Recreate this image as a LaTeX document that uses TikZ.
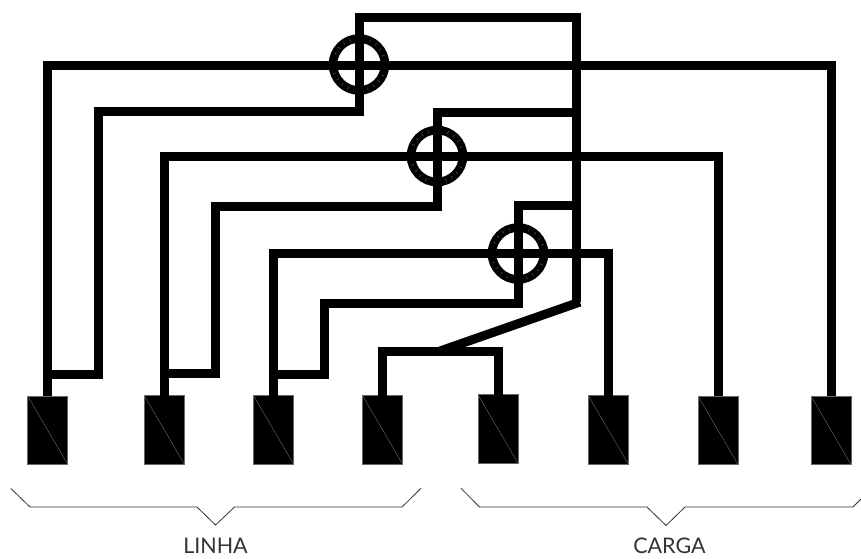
\documentclass[tikz,border=0pt]{standalone}
\usepackage{fontspec}
\usetikzlibrary{calc}
\setmainfont{Lato}
\tikzset{
  wire/.style={line width=9pt,line join=miter,line cap=butt,black},
  term/.style={rectangle,fill=black,draw=black!60,line width=0.6pt,minimum width=40pt,minimum height=68.5pt,inner sep=0pt,outer sep=0pt},
  diag/.style={draw=black!50,line width=0.3pt},
  brace/.style={draw=black!80,line width=0.8pt},
  ring/.style={circle,draw=black,line width=8.6pt,minimum size=52pt,inner sep=0pt,outer sep=0pt},
  tick/.style={draw=black!60,line width=0.4pt},
  lab/.style={font=\fontsize{21.5pt}{22pt}\selectfont,text=black!80,inner sep=0pt}
}
\begin{document}
\begin{tikzpicture}[x=1pt,y=-1pt]
\useasboundingbox (0,0) rectangle (861,558);
% terminals
\node[term] (t1) at (47.75,430.25) {};
\node[term] (t2) at (164.25,429.75) {};
\node[term] (t3) at (273.5,429.75) {};
\node[term] (t4) at (382.5,429.75) {};
\node[term] (t5) at (498,429) {};
\node[term] (t6) at (608.25,429.75) {};
\node[term] (t7) at (718,430.25) {};
\node[term] (t8) at (831,430.25) {};
\foreach \n in {t1,t2,t3,t4,t5,t6,t7,t8}
  \draw[diag] (\n.north west) -- (\n.south east);
% junction points
\coordinate (j1) at (47.75,374);
\coordinate (j2) at (164.25,373);
\coordinate (j3) at (273.5,374);
\coordinate (j5) at (498,351);
\coordinate (sw) at (440,351);
\coordinate (bus) at (576,302);
% wires: line to load
\draw[wire] (t1.north) |- (359,65) -- (831,65) -- (t8.north);
\draw[wire] (t2.north) |- (437,156.5) -- (718,156.5) -- (t7.north);
\draw[wire] (t3.north) |- (518,253.5) -- (608.25,253.5) -- (t6.north);
% wires: line to common bus
\draw[wire] (j1) -- (98,374) -- (98,111) -- (359,111) -- (359,17) -- (576,17) -- (bus);
\draw[wire] (j2) -- (215,373) -- (215,206) -- (437.5,206) -- (437.5,112) -- (576,112);
\draw[wire] (j3) -- (324,374) -- (324,303.5) -- (518,303.5) -- (518,205) -- (576,205);
% switch
\draw[wire] (bus) ++(4,0) -- (sw);
\draw[wire] (t4.north) |- (j5) -- (t5.north);
% current transformers
\foreach \c/\x/\y in {c1/359/64.5,c2/437/156,c3/518/253.5}{
  \node[ring] (\c) at (\x,\y) {};
  \foreach \a in {25,40,...,70,115,130,...,160,205,220,...,250,295,310,...,340}
    \draw[tick] ($(\c.center)+(\a:24.5)$) -- ($(\c.center)+(\a:27.5)$);
}
% braces
\draw[brace] (10.7,488.3) -- (30,507) -- (197,507) -- (215.5,525) -- (234.5,507) -- (402,507) -- (421,488.3);
\draw[brace] (461,488.3) -- (479.5,507) -- (647,507) -- (666,525.5) -- (685,507) -- (853,507) -- (861,499);
% labels
\node[lab] (linha) at (215.5,545.5) {LINHA};
\node[lab] (carga) at (669.5,545.5) {CARGA};
\end{tikzpicture}
\end{document}
